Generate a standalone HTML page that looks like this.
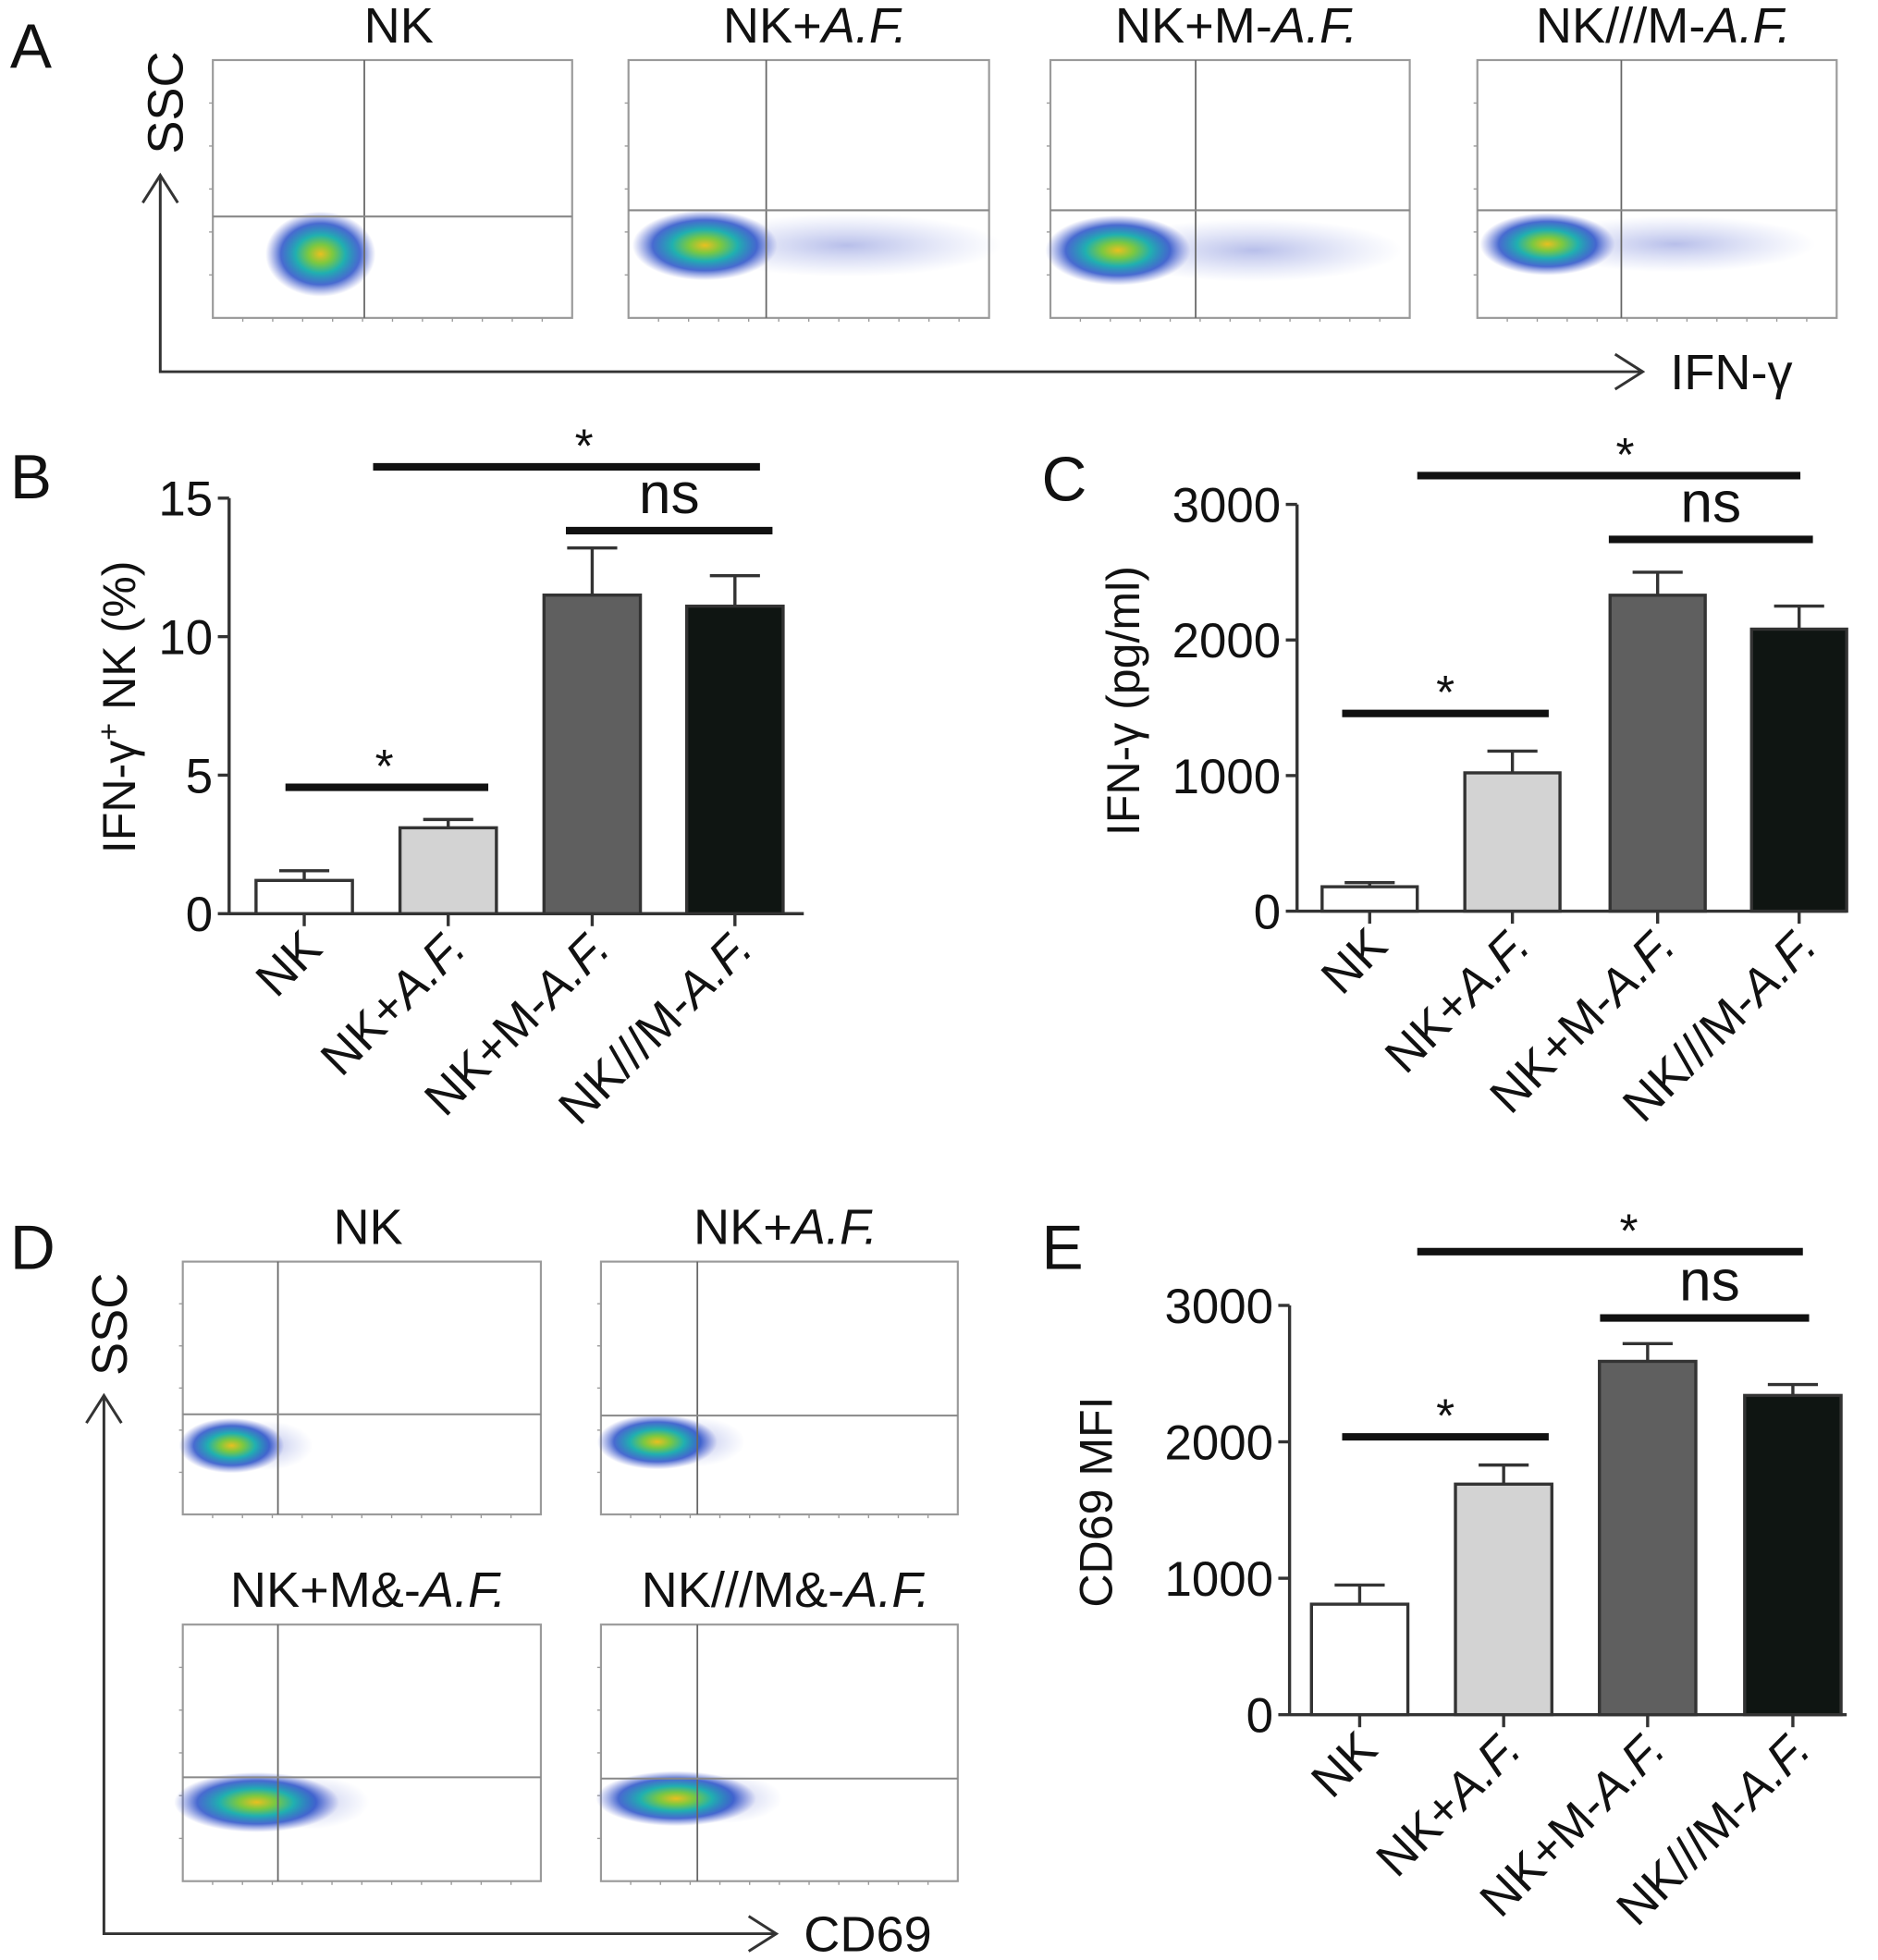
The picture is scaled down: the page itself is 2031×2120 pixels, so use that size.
<!DOCTYPE html>
<html><head><meta charset="utf-8"><style>
html,body{margin:0;padding:0;background:#fff}
svg{display:block}
text{font-family:"Liberation Sans",sans-serif;fill:#111}
</style></head><body>
<svg id="fig" width="2031" height="2120" viewBox="0 0 1500 1566" preserveAspectRatio="none" xmlns="http://www.w3.org/2000/svg">
<defs>
<radialGradient id="cloud">
<stop offset="0%" stop-color="#e8c020"/>
<stop offset="22%" stop-color="#7cc840"/>
<stop offset="45%" stop-color="#20b0b0"/>
<stop offset="72%" stop-color="#2850c8" stop-opacity="0.85"/>
<stop offset="100%" stop-color="#5060d0" stop-opacity="0"/>
</radialGradient>
<radialGradient id="tail">
<stop offset="0%" stop-color="#6070d0" stop-opacity="0.45"/>
<stop offset="100%" stop-color="#8090e0" stop-opacity="0"/>
</radialGradient>
</defs>
<g id="flows"></g>
<g id="bars"></g>
</svg>
<script>
// ---- Panel B data ----
const categories = ["NK", "NK+A.F.", "NK+M-A.F.", "NK///M-A.F."];
const pctValues = [1.2, 3.1, 11.5, 11.1];
const pctErrors = [0.35, 0.3, 1.7, 1.1];
const pctTicks = [0, 5, 10, 15];
// ---- Panel C data ----
const ifnValues = [180, 1020, 2330, 2080];
const ifnErrors = [30, 160, 170, 170];
const ifnTicks = [0, 1000, 2000, 3000];
// ---- Panel E data ----
const cd69Values = [810, 1690, 2590, 2340];
const cd69Errors = [140, 140, 130, 80];
const cd69Ticks = [0, 1000, 2000, 3000];
const barColors = ["#ffffff", "#d3d3d3", "#5f5f5f", "#0f1512"];

const NS = "http://www.w3.org/2000/svg";
function mk(parent, tag, attrs, txt) {
  const e = document.createElementNS(NS, tag);
  for (const k in attrs) e.setAttribute(k, attrs[k]);
  if (txt !== undefined) e.textContent = txt;
  parent.appendChild(e);
  return e;
}
const flows = document.getElementById('flows');
const barsG = document.getElementById('bars');

function labelText(parent, x, y, str, size, anchor, transform) {
  const t = mk(parent, 'text', {x: x, y: y, 'font-size': size, 'text-anchor': anchor || 'middle'});
  if (transform) t.setAttribute('transform', transform);
  const i = str.indexOf('A.F.');
  if (i >= 0) {
    mk(t, 'tspan', {}, str.slice(0, i));
    mk(t, 'tspan', {'font-style': 'italic'}, 'A.F.');
  } else t.textContent = str;
  return t;
}

function flowPlot(x0, y0, w, h, gx, gy, cx, cy, rx, ry, tailTo, title, name) {
  const g = mk(flows, 'g', {});
  
  
  mk(g, 'rect', {x: x0, y: y0, width: w, height: h, fill: '#fff', stroke: '#9a9a9a', 'stroke-width': 1.6});
  for (let k = 1; k < 6; k++) mk(g, 'line', {x1: x0 - 3, x2: x0, y1: y0 + h * k / 6, y2: y0 + h * k / 6, stroke: '#999', 'stroke-width': 1});
  for (let k = 1; k < 12; k++) mk(g, 'line', {x1: x0 + w * k / 12, x2: x0 + w * k / 12, y1: y0 + h, y2: y0 + h + 3, stroke: '#999', 'stroke-width': 1});
  if (tailTo) mk(g, 'ellipse', {cx: (cx + tailTo) / 2, cy: cy, rx: (tailTo - cx) / 2 + 10, ry: ry * 0.9, fill: 'url(#tail)'});
  mk(g, 'ellipse', {cx: cx, cy: cy, rx: rx, ry: ry, fill: 'url(#cloud)'});
  mk(g, 'line', {x1: gx, x2: gx, y1: y0, y2: y0 + h, stroke: '#666', 'stroke-width': 1.3});
  mk(g, 'line', {x1: x0, x2: x0 + w, y1: gy, y2: gy, stroke: '#888', 'stroke-width': 1.5});
  const t = labelText(flows, x0 + w / 2 + 5, y0 - 14, title, 40);
  
  
}
flowPlot(170, 48, 287, 206, 291, 173, 256, 203, 44, 34, 0, 'NK', 'flow-a-nk');
flowPlot(502, 48, 288, 206, 612, 168, 563, 196, 58, 28, 790, 'NK+A.F.', 'flow-a-nk-af');
flowPlot(839, 48, 287, 206, 955, 168, 893, 200, 58, 28, 1110, 'NK+M-A.F.', 'flow-a-nk-m-af');
flowPlot(1180, 48, 287, 206, 1295, 168, 1236, 195, 54, 25, 1440, 'NK///M-A.F.', 'flow-a-transwell');
flowPlot(146, 1008, 286, 202, 222, 1130, 185, 1155, 42, 22, 240, 'NK', 'flow-d-nk');
flowPlot(480, 1008, 285, 202, 557, 1131, 525, 1152, 48, 22, 585, 'NK+A.F.', 'flow-d-nk-af');
flowPlot(146, 1298, 286, 205, 222, 1420, 205, 1440, 66, 24, 285, 'NK+M&-A.F.', 'flow-d-nk-m-af');
flowPlot(480, 1298, 285, 205, 557, 1421, 540, 1437, 64, 22, 615, 'NK///M&-A.F.', 'flow-d-transwell');

function txt(x, y, s, size, name, extra) {
  const t = mk(flows, 'text', Object.assign({x: x, y: y, 'font-size': size}, extra || {}), s);
  
  
  return t;
}
txt(8, 54, 'A', 50, 'panel-label-a');
txt(8, 398, 'B', 50, 'panel-label-b');
txt(832, 400, 'C', 50, 'panel-label-c');
txt(8, 1014, 'D', 50, 'panel-label-d');
txt(832, 1014, 'E', 50, 'panel-label-e');
function arrowAxes(ox, oy, topY, rightX, ylab, yly, xlab, name) {
  const g = mk(flows, 'g', {fill: 'none', stroke: '#333', 'stroke-width': 2.2});
  
  
  mk(g, 'path', {d: `M${ox} ${topY} L${ox} ${oy} L${rightX} ${oy}`});
  mk(g, 'path', {d: `M${ox - 14} ${topY + 22} L${ox} ${topY} L${ox + 14} ${topY + 22}`});
  mk(g, 'path', {d: `M${rightX - 22} ${oy - 14} L${rightX} ${oy} L${rightX - 22} ${oy + 14}`});
  txt(ox + 18, yly, ylab, 40, name + '-y-title', {transform: `rotate(-90 ${ox + 18} ${yly})`, 'text-anchor': 'middle'});
  txt(rightX + 22, oy + 14, xlab, 40, name + '-x-title');
}
arrowAxes(128, 297, 140, 1312, 'SSC', 82, 'IFN-γ', 'axes-a');
arrowAxes(83, 1545, 1115, 620, 'SSC', 1058, 'CD69', 'axes-d');

function barChart(opts) {
  const {ax, ay0, ytop, xend, vmax, values, errors, ticks, centers, bw, ylabel, ylx, yly, key, sigs} = opts;
  const g = mk(barsG, 'g', {});
  
  
  const yS = v => ay0 - (ay0 - ytop) * v / vmax;
  mk(g, 'line', {x1: ax, x2: ax, y1: ytop, y2: ay0 + 1, stroke: '#333', 'stroke-width': 2.5});
  mk(g, 'line', {x1: ax, x2: xend, y1: ay0, y2: ay0, stroke: '#333', 'stroke-width': 2.5});
  ticks.forEach(t => {
    mk(g, 'line', {x1: ax - 9, x2: ax, y1: yS(t), y2: yS(t), stroke: '#333', 'stroke-width': 2.5});
    const tl = mk(g, 'text', {x: ax - 13, y: yS(t) + 14, 'font-size': 39, 'text-anchor': 'end'}, String(t));
    
    
  });
  values.forEach((v, i) => {
    const cx = centers[i];
    const top = yS(v), et = yS(v + errors[i]);
    mk(g, 'line', {x1: cx, x2: cx, y1: top, y2: et, stroke: '#333', 'stroke-width': 2.5});
    mk(g, 'line', {x1: cx - 20, x2: cx + 20, y1: et, y2: et, stroke: '#333', 'stroke-width': 2.5});
    const r = mk(g, 'rect', {x: cx - bw / 2, y: top, width: bw, height: ay0 - top, fill: barColors[i], stroke: '#333', 'stroke-width': 2.5});
    
    
    mk(g, 'line', {x1: cx, x2: cx, y1: ay0, y2: ay0 + 10, stroke: '#333', 'stroke-width': 2.5});
    const lx = cx + 16, ly = ay0 + 30;
    const l = labelText(g, lx, ly, categories[i], 39, 'end', `rotate(-45 ${lx} ${ly})`);
    
    
  });
  const yl = mk(g, 'text', {x: ylx, y: yly, 'font-size': 37, 'text-anchor': 'middle', transform: `rotate(-90 ${ylx} ${yly})`});
  
  
  ylabel.forEach(p => mk(yl, 'tspan', p.sup ? {'font-size': 24, dy: -13} : (p.after ? {dy: 13} : {}), p.t));
  sigs.forEach(s => {
    mk(g, 'line', {x1: s[0], x2: s[1], y1: s[2], y2: s[2], stroke: '#111', 'stroke-width': 6});
    const st = mk(g, 'text', {x: (s[0] + s[1]) / 2 + (s[4] || 0), y: s[2] - (s[3] === 'ns' ? 14 : 4), 'font-size': s[3] === 'ns' ? 46 : 38, 'text-anchor': 'middle'}, s[3]);
    
    
  });
}
barChart({ax: 183, ay0: 730, ytop: 398, xend: 642, vmax: 15, values: pctValues, errors: pctErrors, ticks: pctTicks,
  centers: [243, 358, 473, 587], bw: 77, key: 'b', ylx: 108, yly: 565,
  ylabel: [{t: 'IFN-γ'}, {t: '+', sup: true}, {t: ' NK (%)', after: true}],
  sigs: [[228, 390, 629, '*', -2], [298, 607, 373, '*', 14], [452, 617, 424, 'ns', 0]]});
barChart({ax: 1036, ay0: 728, ytop: 403, xend: 1475, vmax: 3000, values: ifnValues, errors: ifnErrors, ticks: ifnTicks,
  centers: [1094, 1208, 1324, 1437], bw: 76, key: 'c', ylx: 910, yly: 560,
  ylabel: [{t: 'IFN-γ (pg/ml)'}],
  sigs: [[1072, 1237, 570, '*', 0], [1132, 1438, 380, '*', 13], [1285, 1448, 431, 'ns', 0]]});
barChart({ax: 1030, ay0: 1370, ytop: 1043, xend: 1475, vmax: 3000, values: cd69Values, errors: cd69Errors, ticks: cd69Ticks,
  centers: [1086, 1201, 1316, 1432], bw: 77, key: 'e', ylx: 888, yly: 1200,
  ylabel: [{t: 'CD69 MFI'}],
  sigs: [[1072, 1237, 1148, '*', 0], [1132, 1440, 1000, '*', 15], [1278, 1445, 1053, 'ns', 4]]});
</script>
</body></html>
